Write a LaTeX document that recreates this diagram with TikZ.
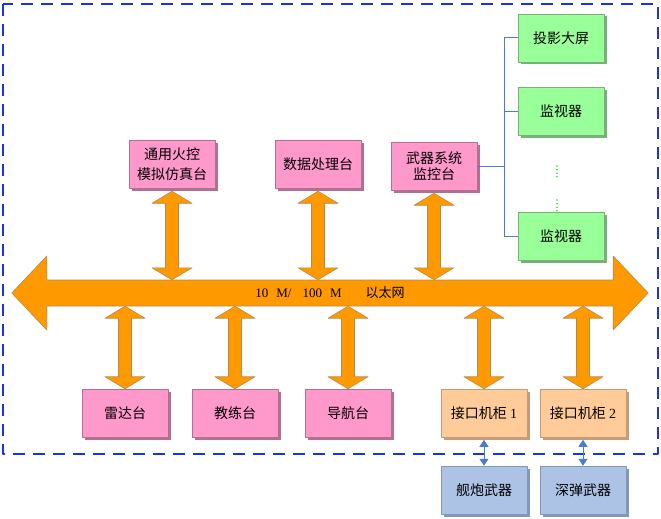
\documentclass[tikz,border=0pt]{standalone}
\usepackage{fontspec}
\setmainfont{Liberation Serif}
\newfontfamily\cjk{Noto Sans CJK SC}
\usetikzlibrary{calc,shadows,arrows.meta}
\definecolor{pinkfill}{HTML}{FF99CC}\definecolor{pinkedge}{HTML}{B0708F}
\definecolor{greenfill}{HTML}{99FF99}\definecolor{greenedge}{HTML}{78B078}
\definecolor{peachfill}{HTML}{FFCC99}\definecolor{peachedge}{HTML}{C49C78}
\definecolor{bluefill}{HTML}{ADC3E6}\definecolor{blueedge}{HTML}{8298BA}
\definecolor{busfill}{HTML}{FF9900}\definecolor{busedge}{HTML}{B88A4A}
\definecolor{framecol}{HTML}{1A33E6}\definecolor{treecol}{HTML}{4A7BD0}
\definecolor{dotcol}{HTML}{22DD22}
% fat double arrow between two named points, #1 above #2
\newcommand\fatlink[2]{%
 \filldraw[fatarrow] (#1) -- ($(#1)+(20,12)$) -- ($(#1)+(6.5,12)$) -- ($(#2)+(6.5,-12)$)
  -- ($(#2)+(20,-12)$) -- (#2) -- ($(#2)+(-20,-12)$) -- ($(#2)+(-6.5,-12)$)
  -- ($(#1)+(-6.5,12)$) -- ($(#1)+(-20,12)$) -- cycle;}
\begin{document}
\begin{tikzpicture}[x=1pt, y=-1pt, line join=round,
 unit/.style={minimum width=86pt, minimum height=48pt, inner sep=0pt, align=center,
  line width=0.5pt, font=\cjk\fontsize{14}{16}\selectfont},
 pinkbox/.style={unit, fill=pinkfill, draw=pinkedge,
  drop shadow={shadow xshift=2.5pt, shadow yshift=-2.5pt, fill=pinkedge, opacity=1}},
 greenbox/.style={unit, fill=greenfill, draw=greenedge,
  drop shadow={shadow xshift=2.5pt, shadow yshift=-2.5pt, fill=greenedge, opacity=1}},
 peachbox/.style={unit, fill=peachfill, draw=peachedge,
  drop shadow={shadow xshift=2.5pt, shadow yshift=-2.5pt, fill=peachedge, opacity=1}},
 bluebox/.style={unit, fill=bluefill, draw=blueedge,
  drop shadow={shadow xshift=2.5pt, shadow yshift=-2.5pt, fill=blueedge, opacity=1}},
 fatarrow/.style={fill=busfill, draw=busedge, line width=0.6pt},
 treeline/.style={draw=treecol, line width=1pt},
 smalllink/.style={draw=treecol, line width=1pt, {Triangle[width=9pt,length=7pt]}-{Triangle[width=9pt,length=7pt]}},
 frame/.style={draw=framecol, line width=2pt, dash pattern=on 12pt off 8pt}]
\useasboundingbox (0,0) rectangle (661,519);
\draw[frame] (3,4) rectangle (658,454);
% boxes
\node[pinkbox] (fire) at (172,164) {通用火控\\[4pt]模拟仿真台};
\node[pinkbox] (data) at (318,164) {数据处理台};
\node[pinkbox] (weap) at (434,166) {武器系统\\监控台};
\node[greenbox] (screen) at (561,38) {投影大屏};
\node[greenbox] (mon1) at (561,111) {监视器};
\node[greenbox] (mon2) at (561,236) {监视器};
\node[pinkbox] (radar) at (125,413) {雷达台};
\node[pinkbox] (train) at (235,413) {教练台};
\node[pinkbox] (nav) at (348,413) {导航台};
\node[peachbox] (port1) at (484,413) {接口机柜 {\rmfamily 1}};
\node[peachbox] (port2) at (583,413) {接口机柜 {\rmfamily 2}};
\node[bluebox] (gun) at (484,490) {舰炮武器};
\node[bluebox] (depth) at (583,490) {深弹武器};
% ethernet bus
\node[minimum width=636pt, minimum height=26pt, inner sep=0pt] (bus) at (330,293) {};
\filldraw[fatarrow] (bus.west) -- ++(35,-37) -- ++(0,24) -- ($(bus.east)+(-35,-13)$) -- ++(0,-24)
 -- (bus.east) -- ++(-35,37) -- ++(0,-24) -- ($(bus.west)+(35,13)$) -- ++(0,24) -- cycle;
\node[font=\fontsize{13}{14}\selectfont] (bustext) at (bus.center)
 {10\hspace{8pt}M/\hspace{11pt}100\hspace{8pt}M\hspace{24pt}{\cjk 以太网}};
\foreach \n in {fire,data,weap} {
 \coordinate (t) at ($(\n.south)+(0,3)$);
 \coordinate (b) at (\n.south |- bus.north);
 \fatlink{t}{b}
}
\foreach \n in {radar,train,nav,port1,port2} {
 \coordinate (t) at (\n.north |- bus.south);
 \fatlink{t}{\n.north}
}
% monitor tree
\coordinate (trunk) at (504,0);
\draw[treeline] (screen.west -| trunk) -- (mon2.west -| trunk);
\draw[treeline] (weap.east) -- (weap.east -| trunk);
\foreach \n in {screen,mon1,mon2} \draw[treeline] (\n.west -| trunk) -- (\n.west);
\draw[dotcol, line width=1.8pt, line cap=round, dash pattern=on 0pt off 3.6pt] (557,166) -- (557,178) (557,200) -- (557,212);
% weapons
\draw[smalllink, shorten <=2.5pt] (port1.south) -- (gun.north);
\draw[smalllink, shorten <=2.5pt] (port2.south) -- (depth.north);
\end{tikzpicture}
\end{document}
